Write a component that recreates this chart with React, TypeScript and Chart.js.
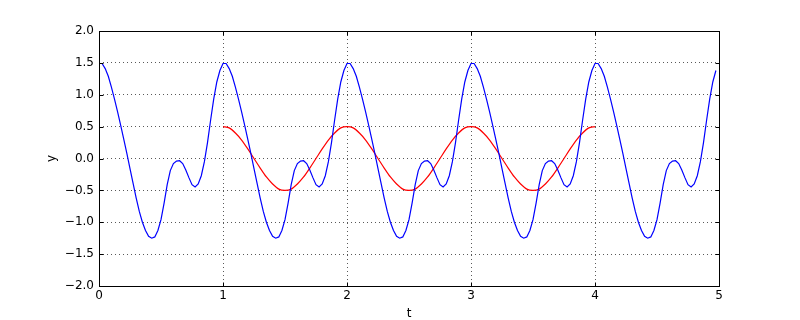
import { useEffect, useRef } from "react";
import { Chart, registerables } from "chart.js";

Chart.register(...registerables);

// Tick values shown on the axes
const xTickValues = [0, 1, 2, 3, 4, 5];
const yTickValues = [-2, -1.5, -1, -0.5, 0, 0.5, 1, 1.5, 2];

const blueStart = 0;
const blueStep = 0.025;
const blueValues = [
  1.49, 1.49, 1.41, 1.29, 1.12, 0.93, 0.73, 0.52, 0.30, 0.075, -0.16, -0.39, -0.62, -0.83, -1.00, -1.13, -1.22, -1.25, -1.23, -1.13,
  -0.96, -0.70, -0.41, -0.19, -0.08, -0.04, -0.035, -0.08, -0.18, -0.30, -0.41, -0.445, -0.40, -0.27, -0.05, 0.25, 0.60, 0.93, 1.20, 1.38,
  1.49, 1.49, 1.41, 1.29, 1.12, 0.93, 0.73, 0.52, 0.30, 0.075, -0.16, -0.39, -0.62, -0.83, -1.00, -1.13, -1.22, -1.25, -1.23, -1.13,
  -0.96, -0.70, -0.41, -0.19, -0.08, -0.04, -0.035, -0.08, -0.18, -0.30, -0.41, -0.445, -0.40, -0.27, -0.05, 0.25, 0.60, 0.93, 1.20, 1.38,
  1.49, 1.49, 1.41, 1.29, 1.12, 0.93, 0.73, 0.52, 0.30, 0.075, -0.16, -0.39, -0.62, -0.83, -1.00, -1.13, -1.22, -1.25, -1.23, -1.13,
  -0.96, -0.70, -0.41, -0.19, -0.08, -0.04, -0.035, -0.08, -0.18, -0.30, -0.41, -0.445, -0.40, -0.27, -0.05, 0.25, 0.60, 0.93, 1.20, 1.38,
  1.49, 1.49, 1.41, 1.29, 1.12, 0.93, 0.73, 0.52, 0.30, 0.075, -0.16, -0.39, -0.62, -0.83, -1.00, -1.13, -1.22, -1.25, -1.23, -1.13,
  -0.96, -0.70, -0.41, -0.19, -0.08, -0.04, -0.035, -0.08, -0.18, -0.30, -0.41, -0.445, -0.40, -0.27, -0.05, 0.25, 0.60, 0.93, 1.20, 1.38,
  1.49, 1.49, 1.41, 1.29, 1.12, 0.93, 0.73, 0.52, 0.30, 0.075, -0.16, -0.39, -0.62, -0.83, -1.00, -1.13, -1.22, -1.25, -1.23, -1.13,
  -0.96, -0.70, -0.41, -0.19, -0.08, -0.04, -0.035, -0.08, -0.18, -0.30, -0.41, -0.445, -0.40, -0.27, -0.05, 0.25, 0.60, 0.93, 1.20, 1.38,
];

// Red series: sampled every 0.05 in t, from t = 1 to t = 4
const redStart = 1;
const redStep = 0.05;
const redValues = [
  0.50, 0.48, 0.40, 0.29, 0.15, 0.00, -0.15, -0.29, -0.40, -0.48, -0.50, -0.48, -0.40, -0.29, -0.15, 0.00, 0.15, 0.29, 0.40, 0.48,
  0.50, 0.48, 0.40, 0.29, 0.15, 0.00, -0.15, -0.29, -0.40, -0.48, -0.50, -0.48, -0.40, -0.29, -0.15, 0.00, 0.15, 0.29, 0.40, 0.48,
  0.50, 0.48, 0.40, 0.29, 0.15, 0.00, -0.15, -0.29, -0.40, -0.48, -0.50, -0.48, -0.40, -0.29, -0.15, 0.00, 0.15, 0.29, 0.40, 0.48,
  0.50,
];

const xTitle = "t";
const yTitle = "y";

const toPoints = (start: number, step: number, vals: number[]) =>
  vals.map((v, i) => ({ x: +(start + i * step).toFixed(4), y: v }));

const fmtY = (v: number) => v.toFixed(1).replace("-", "\u2212");

const framePlugin = {
  id: "frameTicks",
  afterDraw(chart: any) {
    const { ctx, chartArea } = chart;
    const { left, right, top, bottom } = chartArea;
    const xs = chart.scales.x;
    const ys = chart.scales.y;
    ctx.save();
    ctx.strokeStyle = "#000";
    ctx.lineWidth = 1;
    ctx.setLineDash([]);
    const L = Math.round(left) + 0.5;
    const R = Math.round(right) + 0.5;
    const T = Math.round(top) + 0.5;
    const B = Math.round(bottom) + 0.5;
    ctx.strokeRect(L, T, R - L, B - T);
    const tl = 4;
    ctx.beginPath();
    xTickValues.forEach((v) => {
      const px = Math.round(xs.getPixelForValue(v)) + 0.5;
      ctx.moveTo(px, B);
      ctx.lineTo(px, B - tl);
      ctx.moveTo(px, T);
      ctx.lineTo(px, T + tl);
    });
    yTickValues.forEach((v) => {
      const py = Math.round(ys.getPixelForValue(v)) + 0.5;
      ctx.moveTo(L, py);
      ctx.lineTo(L + tl, py);
      ctx.moveTo(R, py);
      ctx.lineTo(R - tl, py);
    });
    ctx.stroke();
    ctx.restore();
  },
};

export default function App() {
  const ref = useRef<HTMLCanvasElement | null>(null);

  useEffect(() => {
    const canvas = ref.current;
    if (!canvas) return;
    Chart.defaults.font.family = "'DejaVu Sans', sans-serif";
    Chart.defaults.font.size = 12;
    Chart.defaults.color = "#000";

    const chart = new Chart(canvas, {
      type: "line",
      data: {
        datasets: [
          {
            data: toPoints(blueStart, blueStep, blueValues),
            borderColor: "#0000ff",
            borderWidth: 1.2,
            pointRadius: 0,
            tension: 0,
            fill: false,
          },
          {
            data: toPoints(redStart, redStep, redValues),
            borderColor: "#ff0000",
            borderWidth: 1.2,
            pointRadius: 0,
            tension: 0.3,
            fill: false,
          },
        ],
      },
      options: {
        animation: false,
        responsive: false,
        devicePixelRatio: 1,
        events: [],
        layout: { padding: { top: 31, right: 81, left: 0, bottom: 0 } },
        plugins: {
          legend: { display: false },
          tooltip: { enabled: false },
        },
        scales: {
          x: {
            type: "linear",
            min: 0,
            max: 5,
            afterFit: (s: any) => {
              s.height = 34;
            },
            afterBuildTicks: (s: any) => {
              s.ticks = xTickValues.map((v) => ({ value: v }));
            },
            ticks: {
              padding: 3,
              maxRotation: 0,
              autoSkip: false,
              callback: (v: any) => String(v),
              font: { size: 12 },
              color: "#000",
            },
            grid: {
              color: "rgba(0,0,0,0.65)",
              lineWidth: 1,
              drawTicks: false,
            },
            border: { display: false, dash: [1, 3] },
            title: {
              display: true,
              text: xTitle,
              color: "#000",
              font: { size: 12 },
              padding: { top: 0, bottom: -1.5 },
            },
          },
          y: {
            type: "linear",
            min: -2,
            max: 2,
            afterFit: (s: any) => {
              s.width = 99;
            },
            afterBuildTicks: (s: any) => {
              s.ticks = yTickValues.map((v) => ({ value: v }));
            },
            ticks: {
              padding: 5,
              autoSkip: false,
              callback: (v: any) => fmtY(Number(v)),
              font: { size: 12 },
              color: "#000",
            },
            grid: {
              color: "rgba(0,0,0,0.65)",
              lineWidth: 1,
              drawTicks: false,
            },
            border: { display: false, dash: [1, 3] },
            title: {
              display: true,
              text: yTitle,
              color: "#000",
              font: { size: 12 },
              padding: { top: 45, bottom: 0 },
            },
          },
        },
      },
      plugins: [framePlugin],
    });
    return () => chart.destroy();
  }, []);

  return (
    <div style={{ position: "fixed", left: 0, top: 0, width: 800, height: 320, background: "#fff" }}>
      <canvas ref={ref} width={800} height={320} style={{ width: 800, height: 320, display: "block" }} />
    </div>
  );
}
